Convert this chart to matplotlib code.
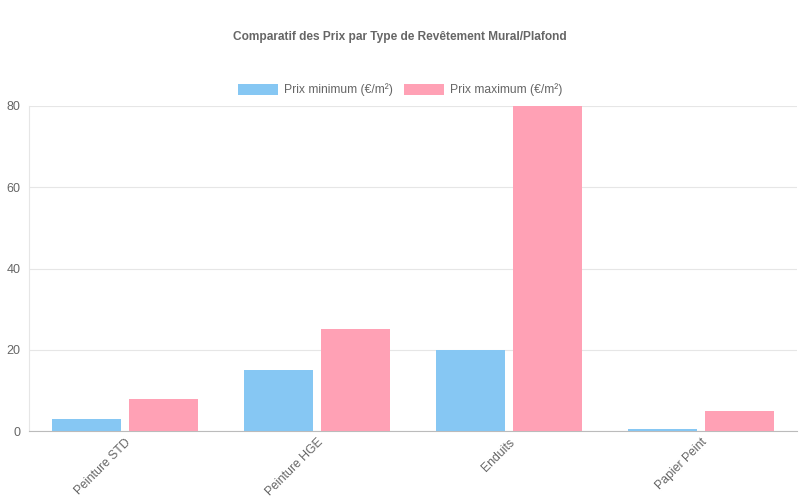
import matplotlib
matplotlib.use("Agg")
import matplotlib.pyplot as plt
import numpy as np
from matplotlib.patches import Patch

plt.rcParams['font.family'] = ['Liberation Sans', 'DejaVu Sans']

# data
categories = ["Peinture STD", "Peinture HGE", "Enduits", "Papier Peint"]
prix_min = [3, 15, 20, 0.5]
prix_max = [8, 25, 80, 5]
y_ticks = [0, 20, 40, 60, 80]

blue = "#86C7F3"
pink = "#FFA1B5"
grey = "#666666"

fig = plt.figure(figsize=(8, 5), dpi=100)
ax = fig.add_axes([29 / 800, 1 - 431 / 500, 768 / 800, 325 / 500])

x = np.arange(len(categories))
slot = 0.4
width = 0.36
ax.bar(x - slot / 2, prix_min, width, color=blue, zorder=3)
ax.bar(x + slot / 2, prix_max, width, color=pink, zorder=3)

ax.set_xlim(-0.5, len(categories) - 0.5)
ax.set_ylim(0, 80)
ax.set_yticks(y_ticks)
ax.set_yticklabels([str(t) for t in y_ticks], color=grey, fontsize=9)
ax.set_xticks(x)
ax.set_xticklabels(categories, rotation=45, ha="right", rotation_mode="anchor",
                   color=grey, fontsize=8.8)
ax.tick_params(axis="both", length=0, pad=6)
ax.tick_params(axis="x", pad=4)

ax.grid(axis="y", color="#e6e6e6", linewidth=0.8, zorder=0)
for s in ["top", "right"]:
    ax.spines[s].set_visible(False)
ax.spines["left"].set_color("#e6e6e6")
ax.spines["bottom"].set_color("#bbbbbb")

# title and legend
fig.text(0.5, 1 - 37 / 500, "Comparatif des Prix par Type de Revêtement Mural/Plafond",
         ha="center", va="center", fontsize=8.6, fontweight="bold", color=grey)
handles = [Patch(facecolor=blue, label="Prix minimum (€/m²)"),
           Patch(facecolor=pink, label="Prix maximum (€/m²)")]
fig.legend(handles=handles, loc="center", bbox_to_anchor=(0.5, 1 - 90 / 500), ncol=2,
           frameon=False, fontsize=8.75, labelcolor=grey, handlelength=3.3,
           handleheight=1.0, handletextpad=0.5, columnspacing=0.9)

fig.savefig("out.png", dpi=100)
